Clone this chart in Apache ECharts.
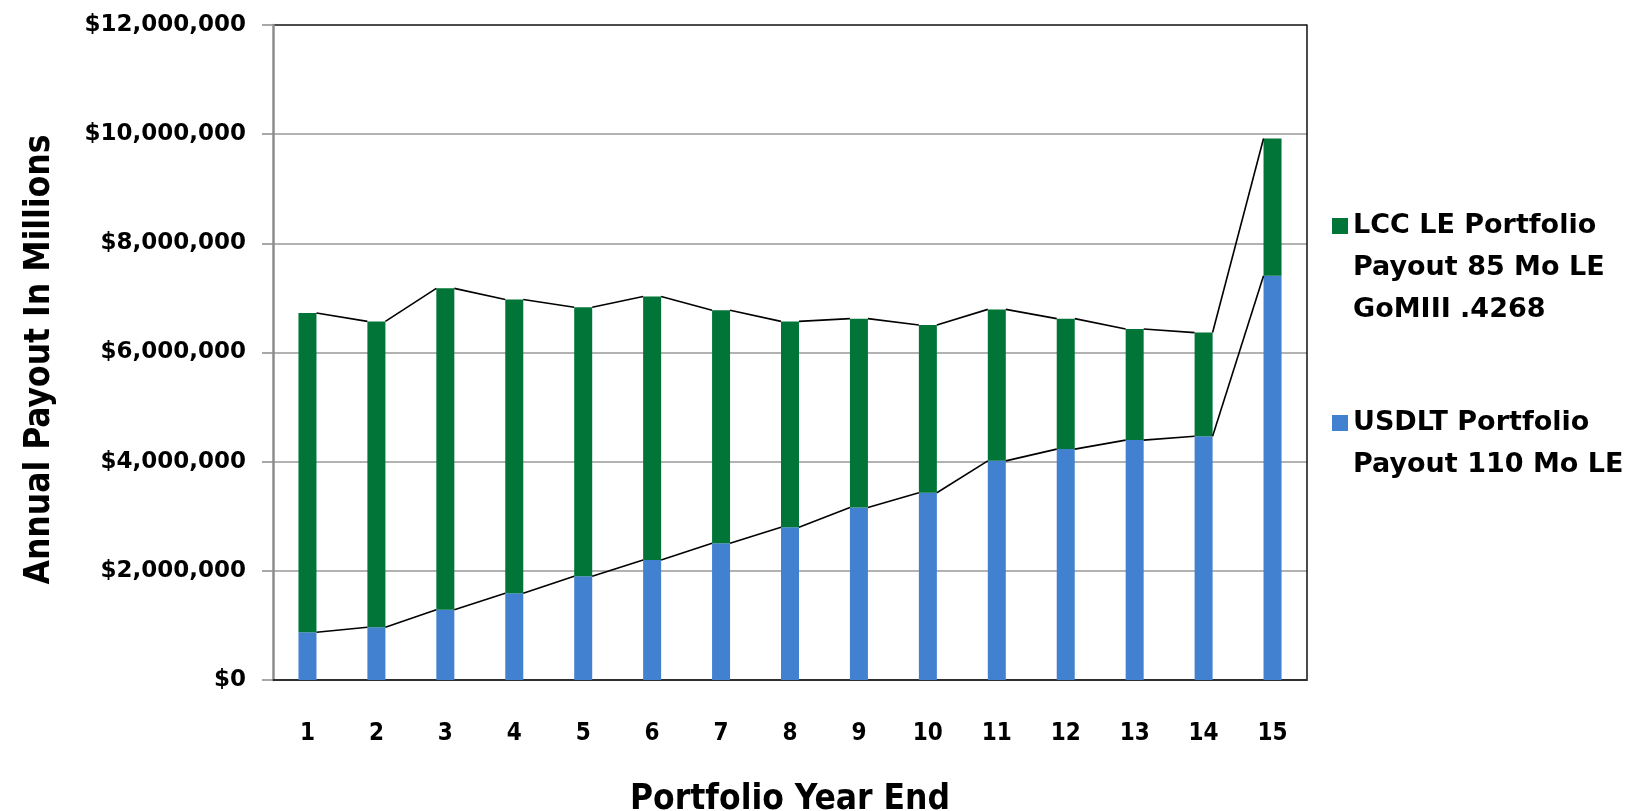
<!DOCTYPE html>
<html>
<head>
<meta charset="utf-8">
<script src="https://cdn.jsdelivr.net/npm/echarts@6/dist/echarts.min.js"></script>
<style>
  html, body { margin: 0; padding: 0; background: #fff; }
  #chart { width: 1634px; height: 811px; }
</style>
</head>
<body>
<div id="chart"></div>
<script>
// portfolio years
var years = ['1', '2', '3', '4', '5', '6', '7', '8', '9', '10', '11', '12', '13', '14', '15'];
// USDLT payout (bottom of stack)
var usdlt = [875000, 965000, 1285000, 1590000, 1900000, 2200000, 2505000, 2800000,
             3160000, 3430000, 4015000, 4230000, 4395000, 4465000, 7405000];
// LCC payout (stacked on top)
var lcc = [5850000, 5605000, 5890000, 5380000, 4930000, 4825000, 4270000, 3770000,
           3460000, 3075000, 2775000, 2390000, 2035000, 1900000, 2515000];
var yTicks = [0, 2000000, 4000000, 6000000, 8000000, 10000000, 12000000];

var lccName = 'LCC LE Portfolio\nPayout 85 Mo LE\nGoMIII .4268';
var usdltName = 'USDLT Portfolio\nPayout 110 Mo LE';
var green = '#017537';
var blue = '#4181cf';
var barW = 18;

// series lines between bar edges (like excel)
var seriesLines = [];
for (var i = 0; i < years.length - 1; i++) {
    seriesLines.push([i, usdlt[i], usdlt[i + 1], usdlt[i] + lcc[i], usdlt[i + 1] + lcc[i + 1]]);
}

var narrow = "'Liberation Sans Narrow', 'DejaVu Sans Condensed', sans-serif";
var wide = "'DejaVu Sans', Verdana, sans-serif";

var chart = echarts.init(document.getElementById('chart'));
chart.setOption({
    animation: false,
    grid: { left: 273, right: 327, top: 25, bottom: 131, outerBoundsMode: 'none' },
    legend: {
        orient: 'vertical',
        left: 1327,
        top: 116,
        itemWidth: 16,
        itemHeight: 16,
        itemGap: 29,
        icon: 'rect',
        textStyle: { fontFamily: wide, fontWeight: 'bold', fontSize: 27, color: '#000', lineHeight: 42 },
        // pad with empty lines above so the icon sits on the first line
        formatter: function (name) {
            var n = name.split('\n').length;
            var pad = '';
            for (var k = 1; k < n; k++) pad += '\n';
            return pad + name;
        },
        data: [lccName, usdltName]
    },
    xAxis: [
        {
            type: 'category',
            data: years,
            name: 'Portfolio Year End',
            nameLocation: 'middle',
            nameGap: 102,
            nameTextStyle: { fontFamily: narrow, fontWeight: 'bold', fontSize: 35, color: '#000' },
            axisLine: { lineStyle: { color: '#8c8c8c', width: 2 } },
            axisTick: { show: false },
            axisLabel: { margin: 42, fontFamily: narrow, fontWeight: 'bold', fontSize: 24, color: '#000' }
        },
        {
            type: 'category',
            data: years,
            position: 'top',
            axisLine: { lineStyle: { color: '#111', width: 1.5 } },
            axisTick: { show: false },
            axisLabel: { show: false }
        }
    ],
    yAxis: [
        {
            type: 'value',
            min: yTicks[0],
            max: yTicks[yTicks.length - 1],
            interval: 2000000,
            name: 'Annual Payout In Millions',
            nameLocation: 'middle',
            nameGap: 216,
            nameRotate: 90,
            nameTextStyle: { fontFamily: narrow, fontWeight: 'bold', fontSize: 35, color: '#000', padding: [0, 14, 0, 0] },
            axisLine: { show: true, lineStyle: { color: '#8c8c8c', width: 2.5 } },
            axisTick: { show: true, inside: false, length: 11, lineStyle: { color: '#8c8c8c', width: 1.5 } },
            axisLabel: {
                margin: 27,
                fontFamily: wide,
                fontWeight: 'bold',
                fontSize: 23,
                color: '#000',
                formatter: function (v) { return '$' + v.toLocaleString('en-US'); }
            },
            splitLine: {
                show: true,
                lineStyle: { color: ['#999', '#999', '#999', '#999', '#999', '#999', '#111'], width: 1.5 }
            }
        },
        {
            type: 'value',
            min: yTicks[0],
            max: yTicks[yTicks.length - 1],
            interval: 2000000,
            position: 'right',
            axisLine: { show: true, lineStyle: { color: '#111', width: 1.5 } },
            axisTick: { show: false },
            axisLabel: { show: false },
            splitLine: { show: false }
        }
    ],
    series: [
        {
            name: usdltName,
            type: 'bar',
            stack: 'pay',
            barWidth: barW,
            itemStyle: { color: blue },
            data: usdlt
        },
        {
            name: lccName,
            type: 'bar',
            stack: 'pay',
            barWidth: barW,
            itemStyle: { color: green },
            data: lcc
        },
        {
            type: 'custom',
            silent: true,
            z: 5,
            encode: { x: 0, y: [1, 2, 3, 4] },
            data: seriesLines,
            renderItem: function (params, api) {
                var idx = api.value(0);
                var half = barW / 2;
                var a1 = api.coord([idx, api.value(1)]);
                var a2 = api.coord([idx + 1, api.value(2)]);
                var b1 = api.coord([idx, api.value(3)]);
                var b2 = api.coord([idx + 1, api.value(4)]);
                var st = { stroke: '#000', lineWidth: 1.6 };
                return {
                    type: 'group',
                    children: [
                        { type: 'line', shape: { x1: a1[0] + half, y1: a1[1], x2: a2[0] - half, y2: a2[1] }, style: st },
                        { type: 'line', shape: { x1: b1[0] + half, y1: b1[1], x2: b2[0] - half, y2: b2[1] }, style: st }
                    ]
                };
            }
        }
    ]
});
</script>
</body>
</html>
